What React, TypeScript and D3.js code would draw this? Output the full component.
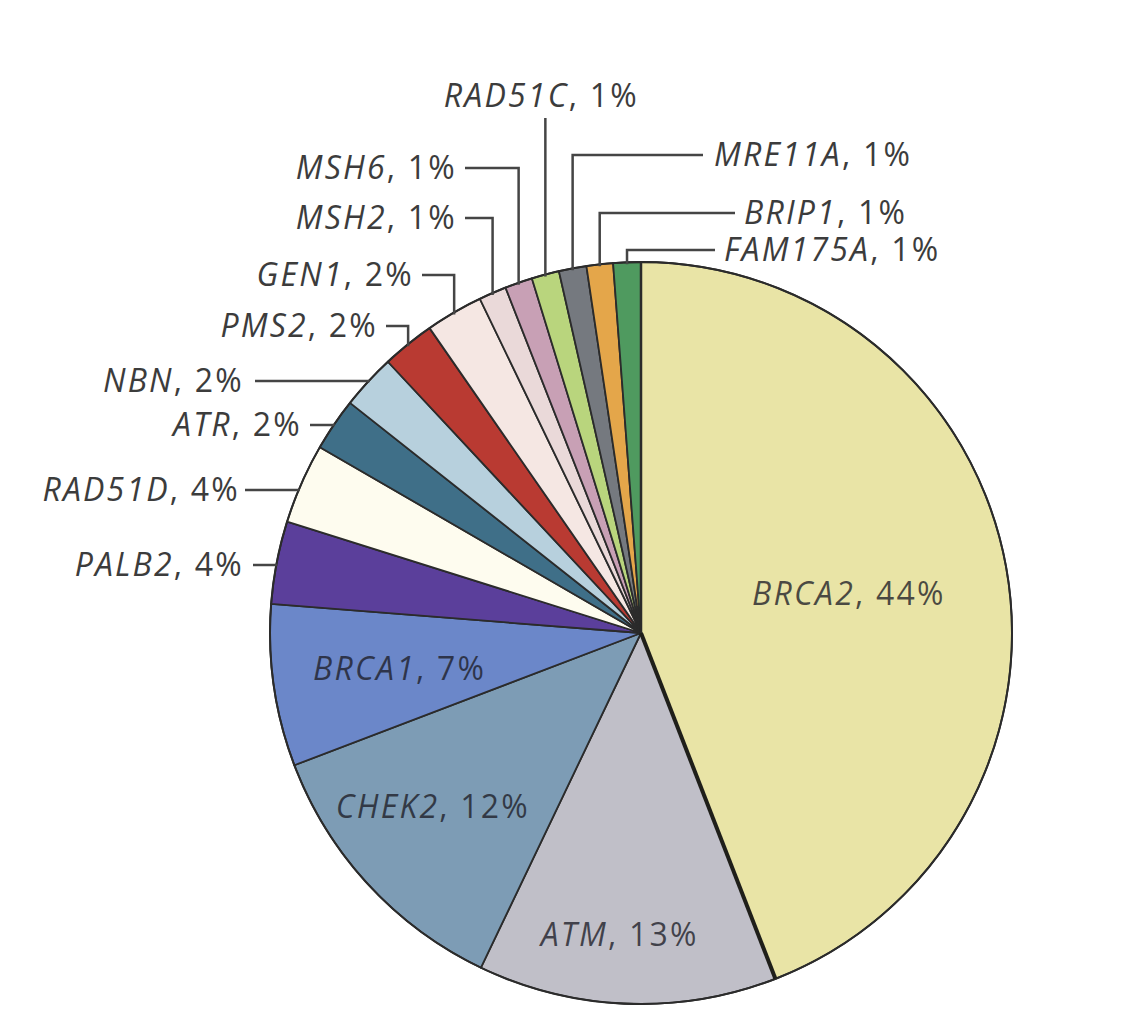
import React from 'react';
import * as d3 from 'd3';

// gene share of the pie, clockwise from 12 o'clock
const genes = ['BRCA2', 'ATM', 'CHEK2', 'BRCA1', 'PALB2', 'RAD51D', 'ATR', 'NBN', 'PMS2', 'GEN1', 'MSH2', 'MSH6', 'RAD51C', 'MRE11A', 'BRIP1', 'FAM175A'];
const shares = [44.1, 13, 12.1, 7.05, 3.6, 3.5, 2.3, 2.4, 2.3, 2.5, 1.2, 1.2, 1.2, 1.2, 1.15, 1.2];
const pctLabels = ['44%', '13%', '12%', '7%', '4%', '4%', '2%', '2%', '2%', '2%', '1%', '1%', '1%', '1%', '1%', '1%'];
const sliceColors = ['#e9e4a6', '#c0bfc8', '#7d9cb5', '#6b87c9', '#5b3f9b', '#fefcef', '#3f6f88', '#b7d0dd', '#b93a32', '#f5e7e3', '#ead9d9', '#c8a0b5', '#b9d57d', '#75797f', '#e4a64a', '#4f9a5f'];

// labels that sit inside the pie
const innerLabels = [
  { gene: 'BRCA2', k: 0.57, dx: 0, dy: 0 },
  { gene: 'ATM', k: 0.815, dx: -10, dy: 0 },
  { gene: 'CHEK2', k: 0.73, dx: -9, dy: -10 },
  { gene: 'BRCA1', k: 0.66, dx: 1, dy: 1 },
];

// outside labels with leader lines
type Outer = { gene: string; kind: 'h' | 'v' | 'elbow'; lineY: number; lineEnd: number; tx: number; anchor: 'start' | 'end' | 'middle'; ty?: number };
const outerLabels: Outer[] = [
  { gene: 'PALB2', kind: 'h', lineY: 565, lineEnd: 253, tx: 244, anchor: 'end' },
  { gene: 'RAD51D', kind: 'h', lineY: 490, lineEnd: 245, tx: 240, anchor: 'end' },
  { gene: 'ATR', kind: 'h', lineY: 425, lineEnd: 310, tx: 302, anchor: 'end' },
  { gene: 'NBN', kind: 'h', lineY: 381, lineEnd: 255, tx: 244, anchor: 'end' },
  { gene: 'PMS2', kind: 'elbow', lineY: 326, lineEnd: 386, tx: 378, anchor: 'end' },
  { gene: 'GEN1', kind: 'elbow', lineY: 275, lineEnd: 422, tx: 414, anchor: 'end' },
  { gene: 'MSH2', kind: 'elbow', lineY: 218, lineEnd: 465, tx: 457, anchor: 'end' },
  { gene: 'MSH6', kind: 'elbow', lineY: 168, lineEnd: 465, tx: 457, anchor: 'end' },
  { gene: 'RAD51C', kind: 'v', lineY: 118, lineEnd: 0, tx: 0, anchor: 'middle', ty: 107 },
  { gene: 'MRE11A', kind: 'elbow', lineY: 155, lineEnd: 703, tx: 714, anchor: 'start' },
  { gene: 'BRIP1', kind: 'elbow', lineY: 213, lineEnd: 735, tx: 744, anchor: 'start' },
  { gene: 'FAM175A', kind: 'elbow', lineY: 250, lineEnd: 715, tx: 724, anchor: 'start' },
];

const W = 1146;
const H = 1024;
const cx = 641;
const cy = 633;
const R = 371;
const FONT = '"Open Sans", "Noto Sans", sans-serif';
const FS = 32;
const LS = 2.2;

export default function App() {
  const pie = d3.pie<number>().sort(null).value(d => d)(shares);
  const arc = d3.arc<d3.PieArcDatum<number>>().innerRadius(0).outerRadius(R);
  const byGene = new Map(genes.map((g, i) => [g, pie[i]]));
  const midOf = (g: string) => {
    const p = byGene.get(g)!;
    return (p.startAngle + p.endAngle) / 2;
  };
  const labelText = (g: string) => {
    const i = genes.indexOf(g);
    return (
      <>
        <tspan fontStyle="italic">{g}</tspan>
        <tspan>{`, ${pctLabels[i]}`}</tspan>
      </>
    );
  };

  const brcaEnd = pie[0].endAngle;

  return (
    <svg width={W} height={H} style={{ position: 'absolute', left: 0, top: 0, background: '#fff' }} fontFamily={FONT}>
      <g transform={`translate(${cx},${cy})`}>
        {pie.map((p, i) => (
          <path key={genes[i]} d={arc(p) || ''} fill={sliceColors[i]} stroke="#2b2b2b" strokeWidth={1.8} strokeLinejoin="round" />
        ))}
        <circle r={R} fill="none" stroke="#2b2b2b" strokeWidth={2} />
        <line x1={0} y1={0} x2={R * Math.sin(brcaEnd)} y2={-R * Math.cos(brcaEnd)} stroke="#1f1f1a" strokeWidth={4} />
        <line x1={0} y1={0} x2={0} y2={-R} stroke="#2b2b2b" strokeWidth={2.5} />
      </g>

      {innerLabels.map(l => {
        const a = midOf(l.gene);
        const x = cx + R * l.k * Math.sin(a) + l.dx;
        const y = cy - R * l.k * Math.cos(a) + l.dy;
        return (
          <text key={l.gene} x={x} y={y} dy="0.35em" textAnchor="middle" fontSize={FS} letterSpacing={LS} fill="#1e1e28" fillOpacity={0.78}>
            {labelText(l.gene)}
          </text>
        );
      })}

      {outerLabels.map(l => {
        let d = '';
        let tx = l.tx;
        let ty = l.ty ?? l.lineY + 11;
        if (l.kind === 'h') {
          const ex = cx - Math.sqrt(R * R - (l.lineY - cy) ** 2);
          d = `M${l.lineEnd},${l.lineY}H${ex + 1}`;
        } else {
          const a = midOf(l.gene);
          const vx = cx + R * Math.sin(a);
          const ey = cy - Math.sqrt(R * R - (vx - cx) ** 2);
          if (l.kind === 'v') {
            d = `M${vx},${l.lineY}V${ey + 2}`;
            tx = vx - 4;
          } else {
            d = `M${l.lineEnd},${l.lineY}H${vx}V${ey + 2}`;
          }
        }
        return (
          <g key={l.gene}>
            <path d={d} fill="none" stroke="#454545" strokeWidth={2.5} />
            <text x={tx} y={ty} textAnchor={l.anchor} fontSize={FS} letterSpacing={LS} fill="#3c3c3c">
              {labelText(l.gene)}
            </text>
          </g>
        );
      })}
    </svg>
  );
}
